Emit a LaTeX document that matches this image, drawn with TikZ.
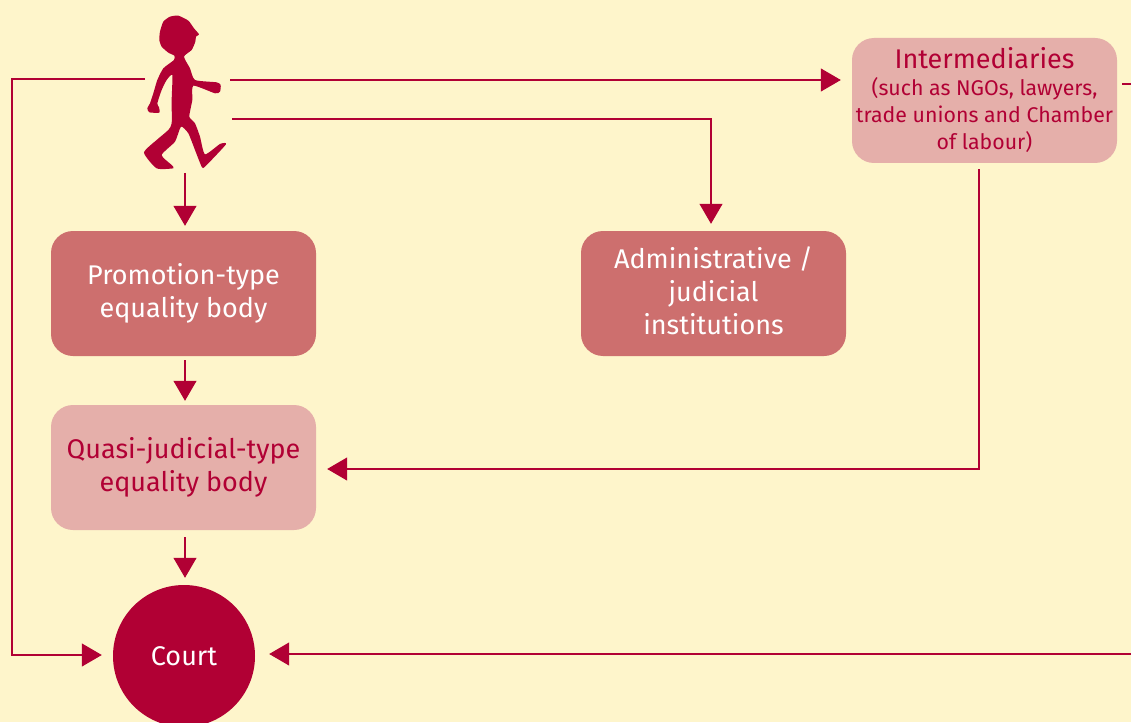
\documentclass[tikz,border=0pt]{standalone}
\usepackage{fontspec}
\setmainfont{Fira Sans}
\usetikzlibrary{arrows.meta}
\definecolor{paper}{HTML}{FEF5CB}
\definecolor{wine}{HTML}{B10034}
\definecolor{rose}{HTML}{CD6F6E}
\definecolor{blush}{HTML}{E5AFAA}
\tikzset{
  bodybox/.style={rectangle, rounded corners=22pt, minimum width=265pt, minimum height=125pt, align=center, font=\fontsize{27}{33}\selectfont},
  flow/.style={draw=wine, line width=1.15pt},
  flowarrow/.style={flow, -{Triangle[length=20pt,width=23pt,fill=wine]}}
}
\begin{document}
\begin{tikzpicture}[x=1pt, y=-1pt]
      \useasboundingbox (0, 0) rectangle (1131, 722);
      \clip (0, 0) rectangle (1131, 722);
      \fill[paper] (0, 0) rectangle (1131, 722);

      % boxes
      \node[bodybox, fill=rose, text=white] (promotion) at (183.5, 293.5) {Promotion-type\\equality body};
      \node[bodybox, fill=rose, text=white] (admin) at (713.5, 293.5) {Administrative /\\judicial\\institutions\\[-27pt]\mbox{}};
      \node[bodybox, fill=blush, text=wine] (quasi) at (183.5, 467.5) {Quasi-judicial-type\\equality body};
      \node[bodybox, fill=blush, text=wine, font=\fontsize{21.3}{27}\selectfont] (intermediaries) at (984.5, 100.5) {{\fontsize{27}{27}\selectfont Intermediaries}\\(such as NGOs, lawyers,\\trade unions and Chamber\\of labour)};
      \node[circle, fill=wine, text=white, minimum size=142pt, inner sep=0pt, font=\fontsize{27}{30}\selectfont] (court) at (184, 656) {Court};

      % walking figure
      \begin{scope}[shift={(120, 0)}, x=0.3333pt, y=-0.3333pt]
        \fill[wine] plot[smooth cycle, tension=0.35] coordinates {(192,170) (215,150) (226,125) (228,110) (237,103) (222,85) (205,62) (175,47)
          (150,50) (130,65) (120,95) (118,120) (125,140) (145,158) (163,167) (162,180) (130,205) (112,240) (100,280) (90,310)
          (82,325) (88,337) (118,338) (117,322) (112,310) (125,270) (140,240) (157,225) (155,300) (155,370)
          (145,390) (110,420) (72,458) (110,505) (160,505) (155,495) (125,465) (165,425) (183,380) (205,400) (225,450)
          (245,500) (255,500) (318,433) (300,432) (255,463) (240,410) (225,370) (208,350) (217,300) (220,257)
          (285,280) (300,275) (302,255) (290,247) (225,240) (210,205)};
      \end{scope}

      % free line ends
      \coordinate (walkerleft) at (145, 79);
      \coordinate (walkerright) at (230, 80);
      \coordinate (walkerhip) at (232, 119);
      \coordinate (walkerfoot) at (185, 173);
      \coordinate (leftedge) at (12, 655);
      \coordinate (rightstub) at (1131, 84);
      \coordinate (rightedge) at (1131, 654);

      % lines
      \draw[flowarrow, shorten >=11pt] (walkerleft) -| (leftedge) -- (leftedge -| court.west);
      \draw[flowarrow, shorten >=11pt] (walkerright) -- (walkerright -| intermediaries.west);
      \draw[flowarrow, shorten >=7pt] (walkerhip) -| ([xshift=-2.5pt]admin.north);
      \draw[flowarrow, shorten >=5pt] (walkerfoot) -- ([xshift=1.5pt]promotion.north);
      \draw[flowarrow, shorten <=4pt, shorten >=4pt] ([xshift=1.5pt]promotion.south) -- ([xshift=1.5pt]quasi.north);
      \draw[flowarrow, shorten <=7pt, shorten >=7pt] ([xshift=1.5pt]quasi.south) -- ([xshift=1pt]court.north);
      \draw[flowarrow, shorten <=6pt, shorten >=11pt] ([xshift=-5.5pt]intermediaries.south) |- ([yshift=-1.5pt]quasi.east);
      \draw[flow, shorten <=5pt] (rightstub -| intermediaries.east) -- (rightstub);
      \draw[flowarrow, shorten >=14pt] (rightedge) -- (rightedge -| court.east);
    \end{tikzpicture}
\end{document}
